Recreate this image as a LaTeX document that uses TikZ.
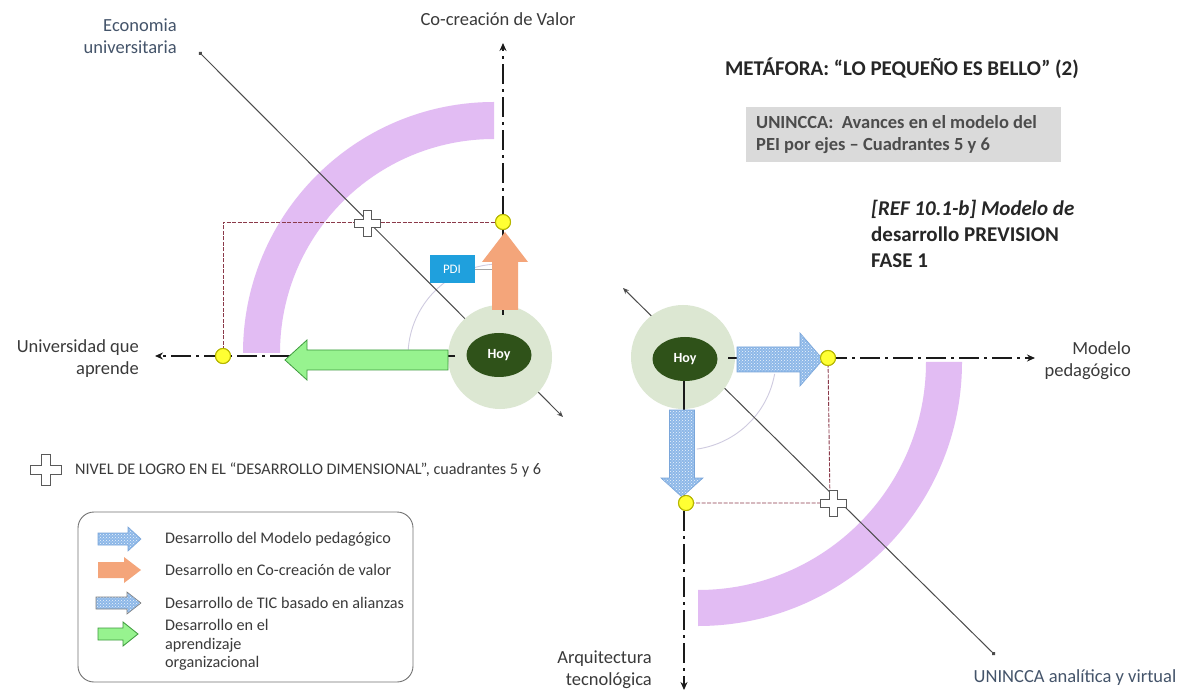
\documentclass[tikz,border=0pt]{standalone}
\usepackage{fontspec}
\setmainfont{Carlito}
\usetikzlibrary{arrows.meta,shapes.geometric,patterns}
\definecolor{axisgray}{HTML}{1A1A1A}
\definecolor{lblgray}{HTML}{3A3A3A}
\definecolor{lblblue}{HTML}{44546A}
\definecolor{arcpink}{HTML}{E2BCF3}
\definecolor{halo}{HTML}{DCE7D2}
\definecolor{hoygreen}{HTML}{2F5219}
\definecolor{orangearr}{HTML}{F4A57A}
\definecolor{greenarr}{HTML}{97F38F}
\definecolor{greenedge}{HTML}{3E9A3E}
\definecolor{bluearr}{HTML}{8DB8E8}
\definecolor{blueedge}{HTML}{7AA6DA}
\definecolor{yellowdot}{HTML}{FFFF33}
\definecolor{yellowedge}{HTML}{B5B500}
\definecolor{redline}{HTML}{8B3A4A}
\definecolor{pdiblue}{HTML}{1FA0DD}
\definecolor{boxgray}{HTML}{DADADA}
\definecolor{faintarc}{HTML}{CFCBE0}
\newcommand\lblfont{\fontsize{18.5}{22}\selectfont}
\newcommand\ttlfont{\fontsize{21}{26}\selectfont\bfseries}
\newcommand\boxfont{\fontsize{18.5}{22}\selectfont\bfseries}
\newcommand\lgdfont{\fontsize{16.2}{18.5}\selectfont}
\tikzset{
  axisline/.style={line width=2.2pt, color=axisgray, dash pattern=on 20pt off 5pt on 3pt off 5pt, -{Stealth[length=8pt,width=7pt]}},
  diag/.style={line width=1pt, color=black!70},
  halonode/.style={circle, fill=halo, minimum size=104pt, inner sep=0pt},
  hoynode/.style={ellipse, fill=hoygreen, minimum width=65pt, minimum height=44pt, inner sep=0pt, text=white, font=\fontsize{14}{16}\selectfont\bfseries},
  ydot/.style={circle, fill=yellowdot, draw=yellowedge, line width=1pt, minimum size=15pt, inner sep=0pt},
  refline/.style={redline, line width=0.9pt, dash pattern=on 4pt off 1.5pt},
  orangefill/.style={fill=orangearr},
  greenfill/.style={fill=greenarr, draw=greenedge, line width=0.8pt},
  bluefill/.style={preaction={fill=bluearr}, pattern=crosshatch dots, pattern color=white!85!bluearr, draw=blueedge, line width=0.6pt},
  axlabel/.style={font=\lblfont, text=lblgray, align=right, inner sep=0pt},
  plusmark/.pic={\draw[fill=white, draw=black!65, line width=1pt] (-4,-13) -- (4,-13) -- (4,-4) -- (13,-4) -- (13,4) -- (4,4) -- (4,13) -- (-4,13) -- (-4,4) -- (-13,4) -- (-13,-4) -- (-4,-4) -- cycle;},
  faint/.style={faintarc, line width=0.9pt}
}
\begin{document}
\begin{tikzpicture}[x=1pt,y=-1pt]
\useasboundingbox[fill=white] (0,0) rectangle (1191,692);

% ---------------- Left diagram ----------------
\fill[arcpink] (494,353) ++(180:251) arc[start angle=180, end angle=270, radius=251] -- ++(0,37) arc[start angle=270, end angle=180, radius=214] -- cycle;
\draw[faint] (500,356) ++(180:92) arc[start angle=180, end angle=265, radius=92];
\coordinate (dLa) at (199,52);
\coordinate (dLb) at (563,417);
\draw[diag, {Circle[length=4pt]}-{Stealth[length=6pt,width=5pt]}] (dLa) -- (dLb);
\node[ydot] (yL) at (223,356) {};
\node[ydot] (yT) at (503,222) {};
\coordinate (cornerL) at (223,222);
\draw[refline] (yL.center) -- (cornerL) -- (yT.center);
\node[halonode] (haloL) at (500,357) {};
\coordinate (axL) at (155,356);
\coordinate (axT) at (503,43);
\draw[axisline] (haloL.center) ++(-45,-1) -- (axL);
\draw[axisline] (503,315) -- (axT);
\draw[greenfill] (448,350) -- (307,350) -- (307,340) -- (285,360) -- (307,380) -- (307,370) -- (448,370) -- cycle;
\fill[orangefill] (492,310) -- (492,262) -- (482,262) -- (505,232) -- (528,262) -- (518,262) -- (518,310) -- cycle;
\node[ydot] at (yL) {};
\node[ydot] at (yT) {};
\node[fill=pdiblue, text=white, minimum width=45pt, minimum height=28pt, inner sep=0pt, font=\fontsize{13}{15}\selectfont] (pdi) at (452,269) {PDI};
\coordinate (pdiend) at (492,269);
\draw[black!35, line width=0.6pt] (pdi.east) -- (pdiend);
\node[hoynode] (hoyL) at (499,355) {Hoy};
\pic at (367,224) {plusmark};

\node[axlabel, anchor=east, text=lblblue] (econ) at (177,36) {Economia\\universitaria};
\node[font=\lblfont, text=lblgray, inner sep=0pt] (cocre) at (498,19) {Co-creación de Valor};
\node[axlabel, anchor=east] (univ) at (139,359) {Universidad que\\aprende};

% ---------------- Right diagram ----------------
\fill[arcpink] (698,362) ++(0:264) arc[start angle=0, end angle=90, radius=264] -- ++(0,-36) arc[start angle=90, end angle=0, radius=228] -- cycle;
\draw[faint] (684,358) ++(10:92) arc[start angle=10, end angle=82, radius=92];
\coordinate (dRa) at (623,288);
\coordinate (dRb) at (995,655);
\draw[diag, {Stealth[length=6pt,width=5pt]}-{Circle[length=4pt]}] (dRa) -- (dRb);
\node[ydot] (yR) at (828,358) {};
\node[ydot] (yB) at (686,503) {};
\coordinate (cornerR) at (830,503);
\draw[refline] (yR.center) -- (cornerR) -- (yB.center);
\node[halonode] (haloR) at (683,357) {};
\coordinate (axR) at (1035,358);
\coordinate (axB) at (684,690);
\draw[axisline] (728,358) -- (axR);
\draw[axisline] (684,412) -- (axB);
\draw[line width=2.4pt, axisgray] (684,380) -- (684,412);
\draw[bluefill] (737,347) -- (800,347) -- (800,333) -- (823,359.5) -- (800,386) -- (800,372) -- (737,372) -- cycle;
\draw[bluefill] (669.5,410) -- (694.5,410) -- (694.5,478) -- (703,478) -- (682,497) -- (661,478) -- (669.5,478) -- cycle;
\node[ydot] at (yR) {};
\node[ydot] at (yB) {};
\node[hoynode] (hoyR) at (685,359) {Hoy};
\pic at (833,503) {plusmark};

\node[axlabel, anchor=east] (modelo) at (1131,361) {Modelo\\pedagógico};
\node[axlabel, anchor=east] (arq) at (652,670) {Arquitectura\\tecnológica};
\node[font=\lblfont, text=lblblue, inner sep=0pt] (unin) at (1075,678) {UNINCCA analítica y virtual};

% ---------------- Titles ----------------
\node[font=\ttlfont, text=black!85, inner sep=0pt] (title) at (902,68) {METÁFORA: ``LO PEQUEÑO ES BELLO'' (2)};
\fill[boxgray] (746,107) rectangle (1061,162);
\node[font=\boxfont, text=black!70, align=left, anchor=west, inner sep=0pt] (avances) at (756,135) {UNINCCA:\ \ Avances en el modelo del\\PEI por ejes -- Cuadrantes 5 y 6};
\node[font=\ttlfont, text=black!85, align=left, anchor=west, inner sep=0pt] (ref) at (871,234) {\textit{[REF 10.1-b] Modelo de}\\desarrollo PREVISION\\FASE 1};

% ---------------- Legend ----------------
\pic[scale=1.2] at (46,470) {plusmark};
\node[font=\lgdfont, text=lblgray, anchor=west, inner sep=0pt] (nivel) at (75,470) {NIVEL DE LOGRO EN EL ``DESARROLLO DIMENSIONAL'', cuadrantes 5 y 6};
\draw[black!55, line width=0.9pt, rounded corners=16pt] (78,512) rectangle (413,682);
\draw[bluefill] (98,533) -- (128,533) -- (128,527) -- (141,539) -- (128,551) -- (128,545) -- (98,545) -- cycle;
\fill[orangefill] (98,562) -- (124,562) -- (124,557) -- (141,570) -- (124,583) -- (124,578) -- (98,578) -- cycle;
\draw[bluefill, draw=black!50] (96,597) -- (127,597) -- (127,592) -- (141,603) -- (127,614) -- (127,609) -- (96,609) -- cycle;
\draw[greenfill] (98,628) -- (123,628) -- (123,622) -- (138,634) -- (123,646) -- (123,640) -- (98,640) -- cycle;
\node[font=\lgdfont, text=lblgray, anchor=west, inner sep=0pt] (lg1) at (165,539) {Desarrollo del Modelo pedagógico};
\node[font=\lgdfont, text=lblgray, anchor=west, inner sep=0pt] (lg2) at (165,570) {Desarrollo en Co-creación de valor};
\node[font=\lgdfont, text=lblgray, anchor=west, inner sep=0pt] (lg3) at (165,603) {Desarrollo de TIC basado en alianzas};
\node[font=\lgdfont, text=lblgray, anchor=west, align=left, inner sep=0pt] (lg4) at (165,645) {Desarrollo en el\\aprendizaje\\organizacional};
\end{tikzpicture}
\end{document}
